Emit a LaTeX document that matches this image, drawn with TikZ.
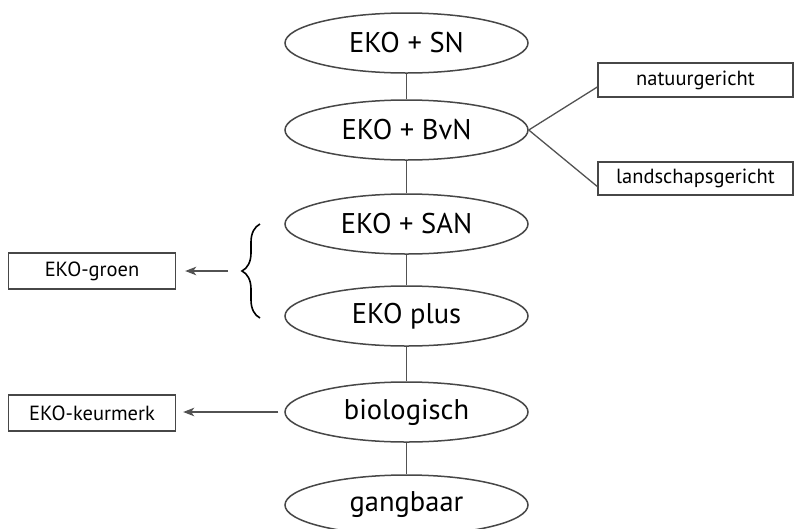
\documentclass[tikz,border=0pt]{standalone}
\usepackage{fontspec}
\setmainfont{PT Sans}
\usetikzlibrary{shapes.geometric,arrows.meta,decorations.pathreplacing}
\begin{document}
\begin{tikzpicture}[x=1pt,y=-1pt,
  ell/.style={draw=black!72,line width=1.5pt,ellipse,minimum width=243pt,minimum height=60pt,inner sep=0pt,font=\fontsize{28.5}{30}\selectfont},
  lbox/.style={draw=black!72,line width=1.4pt,rectangle,inner sep=0pt,font=\fontsize{20.5}{22}\selectfont},
  conn/.style={draw=black!68,line width=1.3pt},
  arr/.style={conn,-{Stealth[length=11pt,width=8.5pt,inset=3pt]}}]
\useasboundingbox (0,0) rectangle (795,528);
\clip (0,0) rectangle (795,528);
\node[ell] (sn) at (406.5,43) {EKO + SN};
\node[ell] (bvn) at (406.5,130) {EKO + BvN};
\node[ell] (san) at (406.5,224) {EKO + SAN};
\node[ell] (plus) at (406.5,316) {EKO plus};
\node[ell] (bio) at (406.5,412) {biologisch};
\node[ell] (gang) at (406.5,505) {gangbaar};
\node[lbox,minimum width=195pt,minimum height=34pt] (nat) at (695.5,80) {natuurgericht};
\node[lbox,minimum width=195pt,minimum height=33pt] (land) at (695.5,178.5) {landschapsgericht};
\node[lbox,minimum width=167pt,minimum height=36pt] (groen) at (92,271) {EKO-groen};
\node[lbox,minimum width=167pt,minimum height=36pt] (keur) at (92,413) {EKO-keurmerk};
\draw[conn] (sn) -- (bvn);
\draw[conn] (bvn) -- (san);
\draw[conn] (san) -- (plus);
\draw[conn] (plus) -- (bio);
\draw[conn] (bio) -- (gang);
\draw[conn] (bvn.east) -- ([yshift=-7pt]nat.west);
\draw[conn] (bvn.east) -- ([yshift=-8pt]land.west);
\coordinate (bt) at (260,224);
\coordinate (bb) at (260,318);
\draw[black,line width=1.6pt,decorate,decoration={brace,amplitude=18pt,aspect=0.5}] (bb) -- (bt);
\coordinate (btip) at (228,271);
\draw[arr,shorten >=9pt] (btip) -- (groen.east);
\draw[arr,shorten >=7pt,shorten <=6pt] (bio.west) -- (bio.west -| keur.east);
\end{tikzpicture}
\end{document}
